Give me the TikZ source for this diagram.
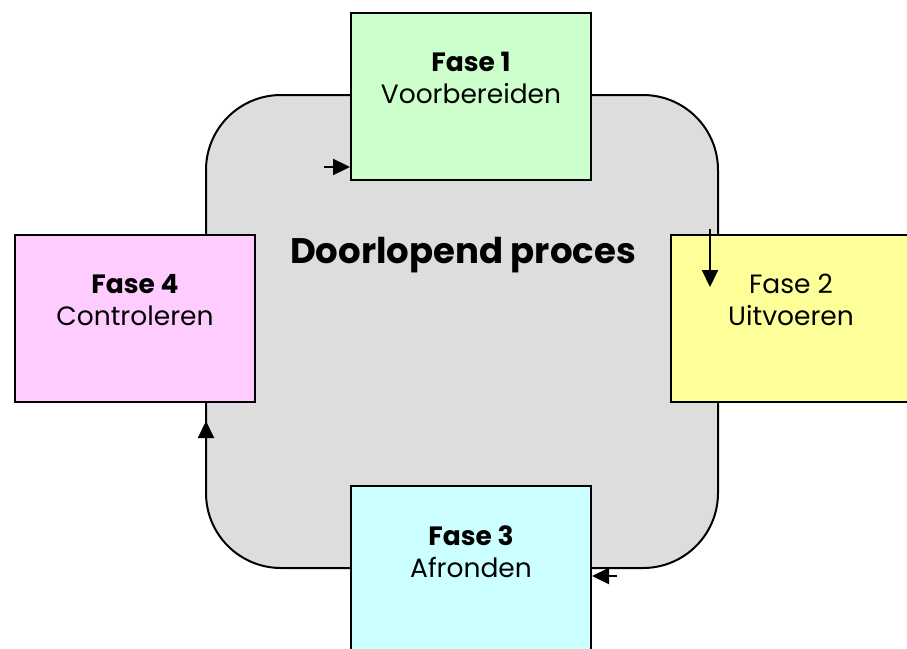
\documentclass[tikz,border=0pt]{standalone}
\usepackage{fontspec}
\setmainfont{Poppins}
\usetikzlibrary{arrows.meta}
\definecolor{procgray}{HTML}{DDDDDD}
\definecolor{f1col}{HTML}{CCFFCC}
\definecolor{f2col}{HTML}{FFFF99}
\definecolor{f3col}{HTML}{CCFFFF}
\definecolor{f4col}{HTML}{FFCCFF}
\tikzset{
  phase/.style={draw=black,line width=2pt,minimum width=240pt,minimum height=167pt,anchor=north west,inner sep=0pt},
  phasetext/.style={align=center,font=\fontsize{26.5}{32}\selectfont,anchor=north,inner sep=0pt},
  arr/.style={line width=2.2pt,-{Triangle[length=17pt,width=16pt]}},
}
\begin{document}
\begin{tikzpicture}[x=1pt,y=-1pt]
\useasboundingbox (0,0) rectangle (907,648);
\clip (0,0) rectangle (907,648);
\fill[white] (0,0) rectangle (907,648);
\draw[fill=procgray,line width=2pt,rounded corners=75pt] (206,95) rectangle (718,568);
\node[font=\fontsize{35.5}{40}\bfseries\selectfont,anchor=base] (title) at (463,263) {Doorlopend proces};
\node[phase,fill=f1col] (f1) at (350,12) {};
\node[phase,fill=f2col] (f2) at (670,234) {};
\node[phase,fill=f3col] (f3) at (350,485) {};
\node[phase,fill=f4col] (f4) at (14,234) {};
\node[phasetext] (t1) at ([yshift=-40pt]f1.north) {\textbf{Fase 1}\\Voorbereiden};
\node[phasetext] (t2) at ([yshift=-40pt]f2.north) {Fase 2\\Uitvoeren};
\node[phasetext] (t3) at ([yshift=-40pt]f3.north) {\textbf{Fase 3}\\Afronden};
\node[phasetext] (t4) at ([yshift=-40pt]f4.north) {\textbf{Fase 4}\\Controleren};
\coordinate (a1) at (324,167);
\coordinate (a2) at (710,229);
\coordinate (a2e) at (710,287);
\coordinate (a3) at (617,576);
\coordinate (a4) at (206,482);
\coordinate (a4e) at (206,421);
\draw[arr] (a1) -- (a1 -| f1.west);
\draw[arr] (a2) -- (a2e);
\draw[arr] (a3) -- (a3 -| f3.east);
\draw[arr] (a4) -- (a4e);
\end{tikzpicture}
\end{document}
